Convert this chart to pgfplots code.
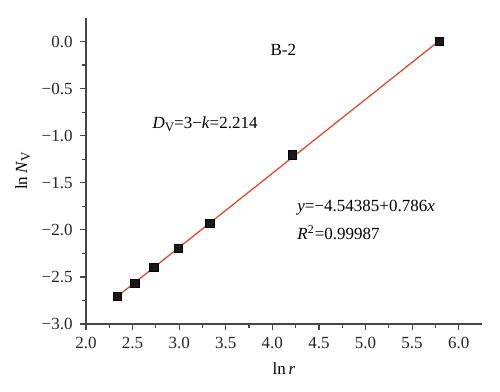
\documentclass[border=0pt]{standalone}
\usepackage{pgfplots}
\pgfplotsset{compat=1.18}
\usepackage{fontspec}
\setmainfont{Liberation Serif}
\definecolor{fitred}{RGB}{226,64,36}
\definecolor{axgray}{RGB}{70,70,70}
\newcommand{\sub}[1]{\raisebox{-0.35ex}{\fontsize{6.5}{7}\selectfont #1}}
\begin{document}
\begin{tikzpicture}[font=\fontsize{8.5}{10}\selectfont]
\begin{axis}[
  at={(0,0)}, anchor=south west,
  scale only axis, width=198pt, height=153pt,
  xmin=2, xmax=6.25, ymin=-3, ymax=0.25,
  axis x line*=bottom, axis y line*=left,
  axis line style={axgray, line width=0.6pt},
  every tick/.style={axgray, line width=0.6pt},
  tick align=outside,
  major tick length=3.2pt, minor tick length=2.2pt,
  minor tick num=1,
  xtick={2,2.5,...,6},
  xticklabels={2.0,2.5,3.0,3.5,4.0,4.5,5.0,5.5,6.0},
  ytick={-3,-2.5,...,0},
  yticklabels={−3.0,−2.5,−2.0,−1.5,−1.0,−0.5,0.0},
  tick label style={font=\fontsize{8.5}{10}\selectfont, text=black!85},
  xlabel={ln\,\textit{r}},
  ylabel={ln\,\textit{N}\sub{V}},
  xlabel style={yshift=0pt},
  ylabel style={yshift=-1pt},
  clip=false,
]
\addplot[fitred, line width=0.6pt] coordinates {(2.337,-2.7070) (5.792,0.0086)};
\addplot[only marks, mark=square*, mark size=2.1pt, mark options={fill=black!90, draw=black}] coordinates {
(2.337,-2.710) (2.523,-2.567) (2.728,-2.397) (2.989,-2.195) (3.330,-1.933) (4.218,-1.205) (5.792,0.0)};
\node[anchor=center] at (axis cs:4.118,-0.085) {B-2};
\node[anchor=west, inner sep=0pt] at (axis cs:2.71,-0.88) {\textit{D}\sub{V}=3−\textit{k}=2.214};
\node[anchor=west, inner sep=0pt] at (axis cs:4.265,-1.766) {\textit{y}=−4.54385+0.786\textit{x}};
\node[anchor=west, inner sep=0pt] at (axis cs:4.265,-2.03) {\textit{R}\textsuperscript{2}=0.99987};
\end{axis}
\pgfresetboundingbox
\useasboundingbox (-43pt,-34pt) rectangle (207pt,162pt);
\end{tikzpicture}
\end{document}
